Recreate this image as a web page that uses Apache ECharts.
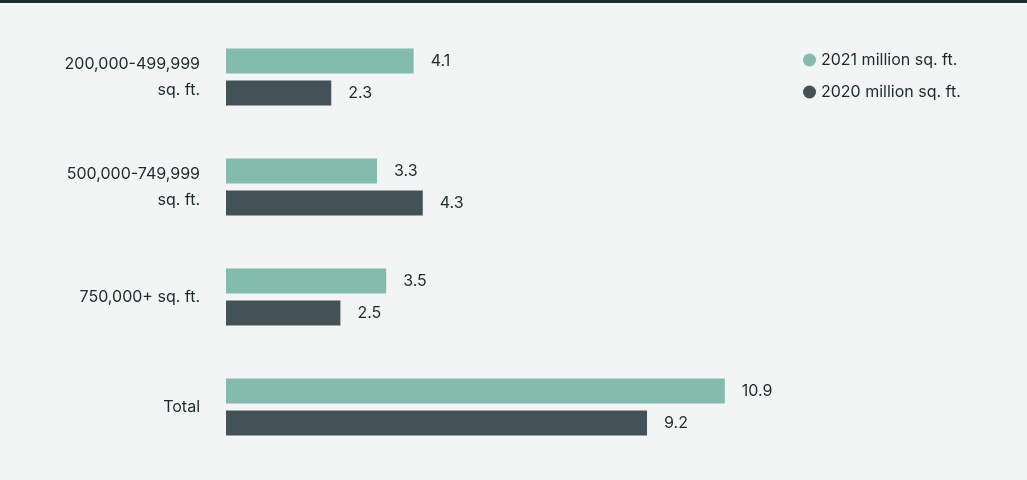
<!DOCTYPE html>
<html><head><meta charset="utf-8">
<script src="https://cdn.jsdelivr.net/npm/echarts@6/dist/echarts.min.js"></script>
<style>html,body{margin:0;padding:0;background:#f3f4f4}#c{width:1027px;height:480px;border-top:3px solid #17302f;box-sizing:border-box}</style>
</head><body><div id="c"></div>
<script>
const categories = ['200,000-499,999\nsq. ft.', '500,000-749,999\nsq. ft.', '750,000+ sq. ft.', 'Total'];
const values2021 = [4.1, 3.3, 3.5, 10.9];
const values2020 = [2.3, 4.3, 2.5, 9.2];
const names = ['2021 million sq. ft.', '2020 million sq. ft.'];
const colors = ['#83bbad', '#435257'];
const chart = echarts.init(document.getElementById('c'));
const font = {fontFamily: 'Inter', fontSize: 16, color: '#1b2b2b'};
chart.setOption({
  backgroundColor: '#f3f4f4',
  textStyle: {fontFamily: 'Inter'},
  legend: {orient: 'vertical', left: 798, top: 44, itemWidth: 13, itemHeight: 13, itemGap: 16, icon: 'circle',
    textStyle: {fontFamily: 'Inter', fontSize: 16, color: '#1b2b2b'}, data: names},
  grid: {left: 226, right: 23, top: 19, bottom: 18},
  xAxis: {type: 'value', min: 0, max: 17, show: false},
  yAxis: {type: 'category', inverse: true, data: categories,
    axisLine: {show: false}, axisTick: {show: false},
    axisLabel: Object.assign({margin: 26, lineHeight: 26, align: 'right'}, font)},
  series: [
    {name: names[0], type: 'bar', data: values2021, barWidth: 25, barGap: '28%', itemStyle: {color: colors[0]},
     label: {show: true, position: 'right', distance: 17, ...font}},
    {name: names[1], type: 'bar', data: values2020, barWidth: 25, itemStyle: {color: colors[1]},
     label: {show: true, position: 'right', distance: 17, ...font}}
  ]
});
</script></body></html>
